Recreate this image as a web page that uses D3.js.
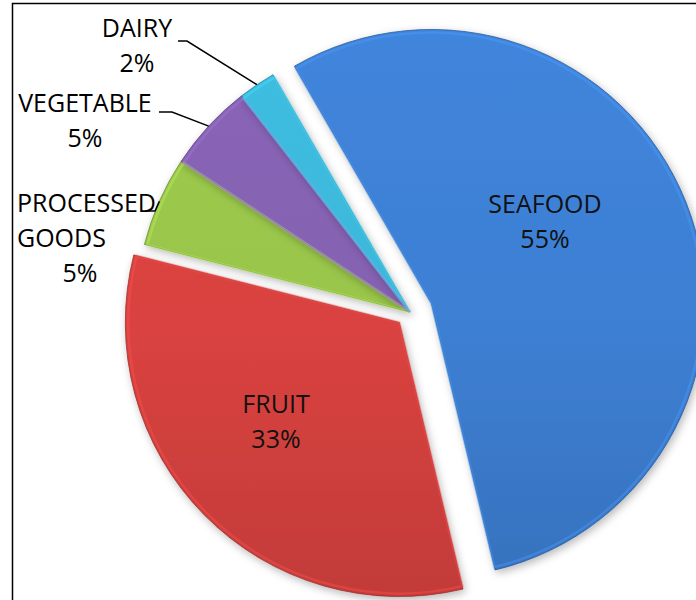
<!DOCTYPE html>
<html>
<head>
<meta charset="utf-8">
<script src="https://cdn.jsdelivr.net/npm/d3@7"></script>
<style>
  body { margin: 0; background: #fff; }
  text { font-family: "Open Sans", sans-serif; }
</style>
</head>
<body>
<div id="chart"></div>
<script>
// category shares (labels show the rounded %)
var categories = ["SEAFOOD", "FRUIT", "PROCESSED GOODS", "VEGETABLE", "DAIRY"];
var shares = [54.6, 32.7, 5.3, 5.2, 2.2];
var colors = ["#3d7fd3", "#d8423f", "#98c44a", "#8461b0", "#3bb6d8"];

var width = 696, height = 600;
var cx = 410, cy = 312, radius = 274;
var explode = [23, 15, 0, 0, 0];

var svg = d3.select("#chart").append("svg")
    .attr("width", width)
    .attr("height", height);

svg.append("rect")
    .attr("width", "100%")
    .attr("height", "100%")
    .attr("fill", "white");

// chart frame, cut off on the right and bottom
svg.append("rect")
    .attr("x", 12.5).attr("y", 3.5)
    .attr("width", 800).attr("height", 800)
    .attr("fill", "none")
    .attr("stroke", "#000")
    .attr("stroke-width", 1.5);

var defs = svg.append("defs");

var shadow = defs.append("filter").attr("id", "shadow")
    .attr("x", "-20%").attr("y", "-20%").attr("width", "140%").attr("height", "140%");
shadow.append("feDropShadow")
    .attr("dx", 2).attr("dy", 3)
    .attr("stdDeviation", 4)
    .attr("flood-color", "#000")
    .attr("flood-opacity", 0.28);

// gradients live in the slice group's coordinates (origin = pie centre)
colors.forEach(function(c, i) {
    var g = defs.append("linearGradient").attr("id", "grad" + i)
        .attr("gradientUnits", "userSpaceOnUse")
        .attr("x1", 0).attr("y1", -radius)
        .attr("x2", 0).attr("y2", radius);
    g.append("stop").attr("offset", "0%").attr("stop-color", d3.color(c).brighter(0.12));
    g.append("stop").attr("offset", "55%").attr("stop-color", c);
    g.append("stop").attr("offset", "100%").attr("stop-color", d3.color(c).darker(0.3));
});

var pie = d3.pie()
    .sort(null)
    .value(function(d) { return d; })
    .startAngle(-Math.PI / 6)
    .endAngle(-Math.PI / 6 + 2 * Math.PI);

var arcs = pie(shares);

var arc = d3.arc().innerRadius(0).outerRadius(radius);
var rimArc = d3.arc().innerRadius(radius).outerRadius(radius);

function offset(d, i) {
    var mid = (d.startAngle + d.endAngle) / 2;
    return [Math.sin(mid) * explode[i], -Math.cos(mid) * explode[i]];
}

var slices = svg.append("g")
    .attr("transform", "translate(" + cx + "," + cy + ")");

slices.selectAll("path.slice")
    .data(arcs)
    .enter().append("path")
    .attr("class", "slice")
    .attr("d", arc)
    .attr("transform", function(d, i) { return "translate(" + offset(d, i) + ")"; })
    .attr("fill", function(d, i) { return "url(#grad" + i + ")"; })
    .attr("stroke", function(d, i) { return d3.color(colors[i]).darker(0.9); })
    .attr("stroke-width", 0.8)
    .attr("stroke-linejoin", "round")
    .attr("filter", "url(#shadow)");

// light bevel rim inside each slice
slices.selectAll("path.rim")
    .data(arcs)
    .enter().append("path")
    .attr("class", "rim")
    .attr("d", d3.arc().innerRadius(0).outerRadius(radius - 3))
    .attr("transform", function(d, i) { return "translate(" + offset(d, i) + ")"; })
    .attr("fill", "none")
    .attr("stroke", function(d, i) { return d3.color(colors[i]).brighter(0.6); })
    .attr("stroke-opacity", 0.4)
    .attr("stroke-width", 2.5);

// labels inside the two big slices
var inside = [
    { i: 0, x: 545, y: 213 },
    { i: 1, x: 276, y: 413 }
];
var lineGap = 35;
var fontSize = 25;

inside.forEach(function(l) {
    var d = arcs[l.i];
    var t = svg.append("text")
        .attr("text-anchor", "middle")
        .attr("font-size", fontSize)
        .attr("fill", "#111");
    t.append("tspan").attr("x", l.x).attr("y", l.y).text(categories[l.i]);
    t.append("tspan").attr("x", l.x).attr("y", l.y + lineGap)
        .text(Math.round(d.value) + "%");
});

// outside labels with leader lines to the middle of each small slice
var outside = [
    { i: 4, lines: ["DAIRY", Math.round(arcs[4].value) + "%"], x: 137, y: 37, anchor: "middle", lx: [178, 187], ly: 41 },
    { i: 3, lines: ["VEGETABLE", Math.round(arcs[3].value) + "%"], x: 85, y: 112, anchor: "middle", lx: [159, 172], ly: 112 },
    { i: 2, lines: ["PROCESSED", "GOODS"], x: 17, y: 212, anchor: "start", lx: [147, 155], ly: 211 }
];

outside.forEach(function(l) {
    var t = svg.append("text")
        .attr("text-anchor", l.anchor)
        .attr("font-size", fontSize)
        .attr("fill", "#000");
    l.lines.forEach(function(s, k) {
        t.append("tspan").attr("x", l.x).attr("y", l.y + k * lineGap).text(s);
    });
    var p = rimArc.centroid(arcs[l.i]);
    svg.append("path")
        .attr("d", d3.line()([[l.lx[0], l.ly], [l.lx[1], l.ly], [cx + p[0], cy + p[1]]]))
        .attr("fill", "none")
        .attr("stroke", "#000")
        .attr("stroke-width", 1.5);
});

// percentage of processed goods sits on a third line
svg.append("text")
    .attr("x", 80).attr("y", 282)
    .attr("text-anchor", "middle")
    .attr("font-size", fontSize)
    .attr("fill", "#000")
    .text(Math.round(arcs[2].value) + "%");
</script>
</body>
</html>
